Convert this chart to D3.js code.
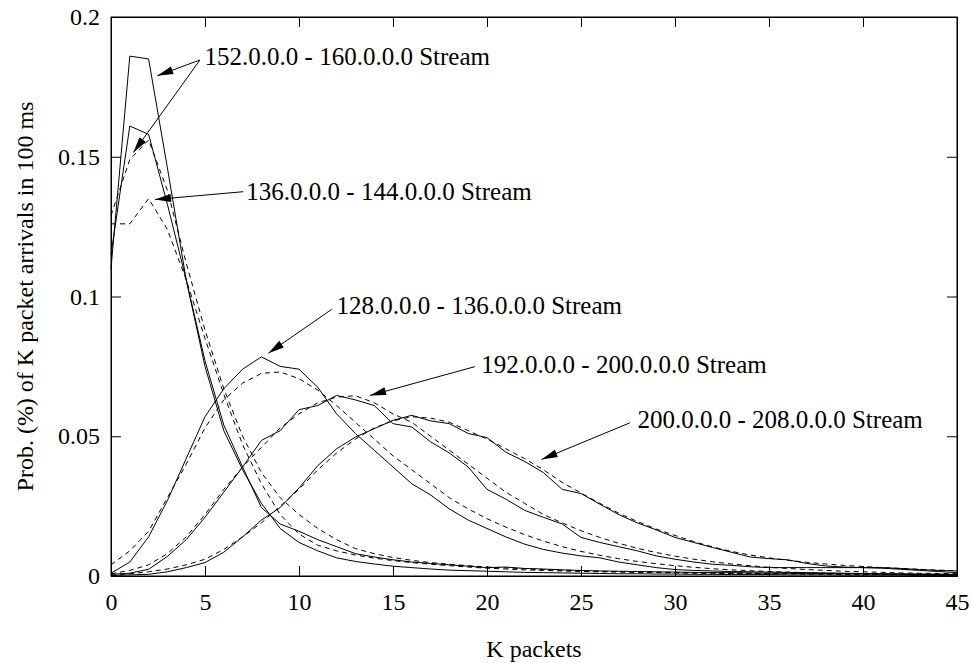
<!DOCTYPE html>
<html><head><meta charset="utf-8">
<script src="https://cdn.jsdelivr.net/npm/d3@7"></script>
<style>
html,body{margin:0;padding:0;background:#fff;}
svg text{font-family:"Liberation Serif","Times New Roman",serif;fill:#000;}
</style></head>
<body><svg id="chart" width="972" height="663"></svg>
<script>
// K packets (x categories)
const kPackets = [0,1,2,3,4,5,6,7,8,9,10,11,12,13,14,15,16,17,18,19,20,21,22,23,24,25,26,27,28,29,30,31,32,33,34,35,36,37,38,39,40,41,42,43,44,45];

// measured (solid) and model (dashed) series
const s152 = [0.110,0.186,0.185,0.146,0.106,0.075,0.052,0.038,0.026,0.017,0.012,0.009,0.0065,0.0052,0.0043,0.0035,0.003,0.0025,0.0021,0.0019,0.0017,0.0015,0.0013,0.0012,0.0011,0.001,0.0009,0.0008,0.0008,0.0007,0.0007,0.0006,0.0006,0.0005,0.0005,0.0005,0.0004,0.0004,0.0004,0.0003,0.0003,0.0003,0.0003,0.0002,0.0002,0.0002];
const d152 = [0.129,0.149,0.156,0.138,0.112,0.088,0.067,0.050,0.037,0.028,0.022,0.017,0.013,0.0098,0.008,0.0066,0.0056,0.0048,0.0042,0.0037,0.0032,0.0029,0.0026,0.0023,0.0021,0.0019,0.0017,0.0016,0.0015,0.0014,0.0013,0.0012,0.0011,0.001,0.001,0.0009,0.0009,0.0008,0.0008,0.0007,0.0007,0.0006,0.0006,0.0006,0.0005,0.0005];
const s136 = [0.115,0.161,0.158,0.133,0.106,0.077,0.054,0.039,0.0245,0.0186,0.016,0.013,0.0105,0.008,0.0068,0.0058,0.005,0.0045,0.004,0.0035,0.003,0.0032,0.0027,0.0025,0.0022,0.002,0.0018,0.0017,0.0016,0.0015,0.0014,0.0013,0.0012,0.0012,0.0011,0.001,0.001,0.0009,0.0009,0.0008,0.0008,0.0007,0.0007,0.0006,0.0006,0.0005];
const d136 = [0.126,0.126,0.135,0.124,0.106,0.085,0.065,0.047,0.033,0.022,0.015,0.011,0.009,0.0075,0.0064,0.0055,0.0048,0.0042,0.0037,0.0032,0.0028,0.0025,0.0022,0.002,0.0018,0.0016,0.0015,0.0014,0.0013,0.0012,0.0011,0.001,0.001,0.0009,0.0009,0.0008,0.0008,0.0007,0.0007,0.0006,0.0006,0.0005,0.0005,0.0005,0.0004,0.0004];
const s128 = [0.001,0.005,0.014,0.027,0.042,0.057,0.067,0.074,0.0784,0.075,0.074,0.0675,0.058,0.051,0.045,0.039,0.033,0.029,0.024,0.020,0.017,0.014,0.0114,0.0095,0.0082,0.0072,0.0065,0.005,0.004,0.003,0.0023,0.002,0.0018,0.0016,0.0015,0.0014,0.0013,0.0012,0.0011,0.001,0.0009,0.0008,0.0007,0.0007,0.0006,0.0006];
const d128 = [0.004,0.009,0.016,0.028,0.040,0.053,0.063,0.069,0.0725,0.073,0.0706,0.0665,0.061,0.055,0.049,0.043,0.038,0.033,0.028,0.024,0.0205,0.0175,0.0148,0.0125,0.0105,0.0088,0.0074,0.0062,0.0052,0.0044,0.0037,0.0031,0.0026,0.0022,0.0019,0.0016,0.0014,0.0012,0.001,0.0009,0.0008,0.0007,0.0006,0.0005,0.0005,0.0004];
const s192 = [0.0006,0.001,0.0024,0.007,0.013,0.021,0.030,0.039,0.0485,0.052,0.0595,0.061,0.0646,0.063,0.061,0.0545,0.0533,0.048,0.044,0.039,0.031,0.0275,0.0235,0.021,0.0186,0.0138,0.012,0.0105,0.009,0.0072,0.006,0.005,0.0042,0.0038,0.0033,0.003,0.003,0.003,0.003,0.003,0.003,0.0028,0.0024,0.002,0.0016,0.0012];
const d192 = [0.0008,0.002,0.004,0.008,0.014,0.022,0.031,0.039,0.046,0.053,0.058,0.062,0.064,0.0645,0.062,0.058,0.055,0.050,0.045,0.040,0.035,0.030,0.026,0.022,0.019,0.0162,0.0138,0.0117,0.0099,0.0084,0.0071,0.006,0.0051,0.0043,0.0037,0.0031,0.0027,0.0023,0.002,0.0017,0.0015,0.0013,0.0011,0.001,0.0009,0.0008];
const s200 = [0.0002,0.0004,0.0006,0.0015,0.003,0.0048,0.0085,0.014,0.020,0.0245,0.0315,0.0395,0.0455,0.0497,0.0527,0.0557,0.0575,0.0555,0.0545,0.051,0.0495,0.0443,0.041,0.037,0.031,0.0295,0.0257,0.022,0.019,0.0165,0.0138,0.012,0.0102,0.0085,0.0068,0.0062,0.0058,0.0045,0.0036,0.0032,0.003,0.003,0.0027,0.0023,0.002,0.0018];
const d200 = [0.0003,0.0008,0.0015,0.0025,0.004,0.006,0.0095,0.014,0.019,0.025,0.031,0.038,0.044,0.049,0.053,0.0555,0.057,0.0565,0.055,0.052,0.049,0.0455,0.042,0.038,0.0335,0.0297,0.026,0.0225,0.0195,0.0168,0.0145,0.0123,0.0104,0.0088,0.0075,0.0065,0.0056,0.0049,0.0043,0.0038,0.0034,0.003,0.0027,0.0024,0.0021,0.0019];

const xTicks = [0,5,10,15,20,25,30,35,40,45];
const yTicks = [0,0.05,0.1,0.15,0.2];
const yTickLabels = ["0","0.05","0.1","0.15","0.2"];

const streamLabels = ["152.0.0.0 - 160.0.0.0 Stream","136.0.0.0 - 144.0.0.0 Stream","128.0.0.0 - 136.0.0.0 Stream","192.0.0.0 - 200.0.0.0 Stream","200.0.0.0 - 208.0.0.0 Stream"];

const xTitle = "K packets";
const yTitle = "Prob. (%) of K packet arrivals in 100 ms";

// ---- layout ----
const L = 111, R = 957, T = 17, B = 576;
const svg = d3.select("#chart");
const x = d3.scaleLinear().domain([0,45]).range([L,R]);
const y = d3.scaleLinear().domain([0,0.2]).range([B,T]);

const series = [
  {v:s152, dash:null},{v:d152, dash:"5,4"},
  {v:s136, dash:null},{v:d136, dash:"5,4"},
  {v:s128, dash:null},{v:d128, dash:"5,4"},
  {v:s192, dash:null},{v:d192, dash:"5,4"},
  {v:s200, dash:null},{v:d200, dash:"5,4"}
];
const line = d3.line().x((d,i)=>x(kPackets[i])).y(d=>y(d));
svg.append("g").selectAll("path").data(series).join("path")
  .attr("d", d=>line(d.v))
  .attr("fill","none").attr("stroke","#000").attr("stroke-width",1)
  .attr("stroke-dasharray", d=>d.dash);

// axes with inward ticks on all four sides
const fs = 24;
const gB = svg.append("g").attr("transform",`translate(0,${B})`)
  .call(d3.axisBottom(x).tickValues(xTicks).tickSize(-10).tickPadding(17).tickFormat(d3.format("d")));
const gT = svg.append("g").attr("transform",`translate(0,${T})`)
  .call(d3.axisTop(x).tickValues(xTicks).tickSize(-10).tickFormat(""));
const gL = svg.append("g").attr("transform",`translate(${L},0)`)
  .call(d3.axisLeft(y).tickValues(yTicks).tickSize(-10).tickPadding(11).tickFormat((d,i)=>yTickLabels[i]));
const gR = svg.append("g").attr("transform",`translate(${R},0)`)
  .call(d3.axisRight(y).tickValues(yTicks).tickSize(-10).tickFormat(""));
[gB,gT,gL,gR].forEach(g=>{
  g.select(".domain").attr("stroke","#000").attr("stroke-width",1);
  g.selectAll(".tick line").attr("stroke","#000");
  g.selectAll("text").attr("font-family","Liberation Serif").attr("font-size",fs).attr("fill","#000");
});
// outer frame
svg.append("rect").attr("x",L).attr("y",T).attr("width",R-L).attr("height",B-T)
  .attr("fill","none").attr("stroke","#000").attr("stroke-width",1);

// titles
svg.append("text").attr("x",(L+R)/2).attr("y",657).attr("text-anchor","middle")
  .attr("font-size",fs).text(xTitle);
svg.append("text").attr("transform",`translate(33,${(T+B)/2}) rotate(-90)`).attr("text-anchor","middle")
  .attr("font-size",fs).text(yTitle);

// annotations (positions in data units)
const ann = [
  {label:0, tx:4.98, ty:0.1828, arrows:[[4.73,0.1846,2.46,0.179],[4.73,0.1846,1.19,0.1515]]},
  {label:1, tx:7.2, ty:0.1345, arrows:[[7.04,0.1375,2.34,0.1347]]},
  {label:2, tx:12.0, ty:0.0937, arrows:[[11.74,0.0954,8.37,0.0797]]},
  {label:3, tx:19.7, ty:0.0726, arrows:[[19.36,0.0749,13.78,0.0646]]},
  {label:4, tx:28.0, ty:0.0529, arrows:[[27.6,0.0548,22.9,0.0417]]}
];
const ga = svg.append("g");
ann.forEach(a=>{
  ga.append("text").attr("x",x(a.tx)).attr("y",y(a.ty)).attr("font-size",25).text(streamLabels[a.label]);
  a.arrows.forEach(([k0,v0,k1,v1])=>{
    const x0=x(k0),y0=y(v0),x1=x(k1),y1=y(v1);
    ga.append("line").attr("x1",x0).attr("y1",y0).attr("x2",x1).attr("y2",y1).attr("stroke","#000").attr("stroke-width",1);
    const ang=Math.atan2(y1-y0,x1-x0), len=16, hw=4;
    const bx=x1-len*Math.cos(ang), by=y1-len*Math.sin(ang);
    const px=-Math.sin(ang)*hw, py=Math.cos(ang)*hw;
    ga.append("path").attr("d",`M${x1},${y1}L${bx+px},${by+py}L${bx-px},${by-py}Z`).attr("fill","#000");
  });
});
</script></body></html>
